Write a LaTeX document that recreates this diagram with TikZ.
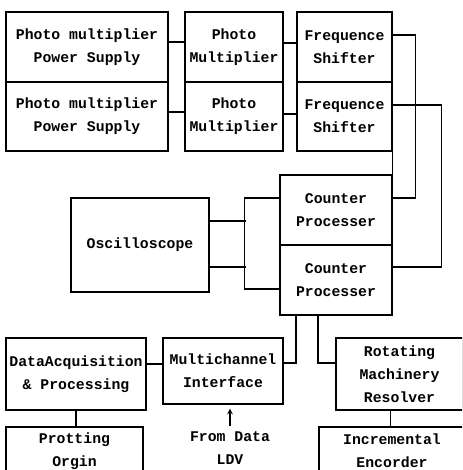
\documentclass[tikz,border=0pt]{standalone}
\usepackage{fontspec}
\setmonofont{Liberation Mono}
\tikzset{
  blk/.style={draw, line width=1.4pt, align=center, inner sep=0pt,
    font=\ttfamily\bfseries\fontsize{14.8}{23}\selectfont},
  wire/.style={line width=1.4pt}
}
\begin{document}
\begin{tikzpicture}[x=1pt, y=-1pt, line join=miter, >=stealth]
	\useasboundingbox (0,0) rectangle (462,470);
	\clip (0,0) rectangle (462,470);
	% photo multiplier chain
	\node[blk, minimum width=162pt, minimum height=70pt] (ps1) at (87,47) {Photo multiplier\\Power Supply};
	\node[blk, minimum width=162pt, minimum height=69pt] (ps2) at (87,116.5) {Photo multiplier\\Power Supply};
	\node[blk, minimum width=98pt, minimum height=70pt] (pm1) at (234,47) {Photo\\Multiplier};
	\node[blk, minimum width=98pt, minimum height=69pt] (pm2) at (234,116.5) {Photo\\Multiplier};
	\node[blk, minimum width=95pt, minimum height=70pt] (fs1) at (344.5,47) {Frequence\\Shifter};
	\node[blk, minimum width=95pt, minimum height=69pt] (fs2) at (344.5,116.5) {Frequence\\Shifter};
	% processors
	\node[blk, minimum width=112pt, minimum height=70pt] (cp1) at (336,210) {Counter\\Processer};
	\node[blk, minimum width=112pt, minimum height=70pt] (cp2) at (336,280) {Counter\\Processer};
	\node[blk, minimum width=138pt, minimum height=94pt] (osc) at (140,245) {Oscilloscope};
	% bottom row
	\node[blk, minimum width=140pt, minimum height=72pt] (dap) at (76,374) {DataAcquisition\\\& Processing};
	\node[blk, minimum width=120pt, minimum height=66pt] (mi) at (223,371) {Multichannel\\Interface};
	\node[blk, minimum width=127pt, minimum height=72pt] (rmr) at (399.5,374) {Rotating\\Machinery\\Resolver};
	\node[blk, minimum width=137pt, minimum height=48pt] (pro) at (74.5,451) {Protting\\Orgin};
	\node[blk, minimum width=146pt, minimum height=48pt] (enc) at (392,451) {Incremental\\Encorder};
	\node[font=\ttfamily\bfseries\fontsize{14.8}{23}\selectfont, align=center, inner sep=0pt] (ldv) at (230,448) {From Data\\LDV};
	% connectors
	\draw[wire] ([yshift=5pt]ps1.east) -- ([yshift=5pt]pm1.west);
	\draw[wire] ([yshift=4.5pt]ps2.east) -- ([yshift=4.5pt]pm2.west);
	\draw[wire] ([yshift=4pt]pm1.east) -- ([yshift=4pt]fs1.west);
	\draw[wire] ([yshift=2.5pt]pm2.east) -- ([yshift=2.5pt]fs2.west);
	\draw[wire] ([yshift=12pt]fs1.east) -- ++(23,0) |- ([yshift=12pt]cp1.east);
	\draw[wire] ([yshift=11.5pt]fs2.east) -- ++(49,0) |- ([yshift=13pt]cp2.east);
	\draw[wire] (fs2.south east) -- (cp1.north east);
	\draw[wire] ([yshift=12pt]cp1.west) -- ++(-35,0) -- ++(0,91) -- ([yshift=-9pt]cp2.west);
	\draw[wire] ([yshift=24pt]osc.east) -- ++(36,0);
	\draw[wire] ([yshift=-22pt]osc.east) -- ++(36,0);
	\draw[wire] ([xshift=-40pt]cp2.south) |- ([yshift=8pt]mi.east);
	\draw[wire] ([xshift=-18pt]cp2.south) |- ([yshift=11pt]rmr.west);
	\draw[wire] ([yshift=10pt]dap.east) -- ([yshift=7pt]mi.west);
	\draw[wire] (dap.south) -- (dap.south |- pro.north);
	\draw[wire] ([xshift=-9pt]rmr.south) -- ([xshift=-9pt]rmr.south |- enc.north);
	\draw[->, line width=1.4pt] ([yshift=5pt]ldv.north) -- ([yshift=-4pt]ldv.north |- mi.south);
\end{tikzpicture}
\end{document}
